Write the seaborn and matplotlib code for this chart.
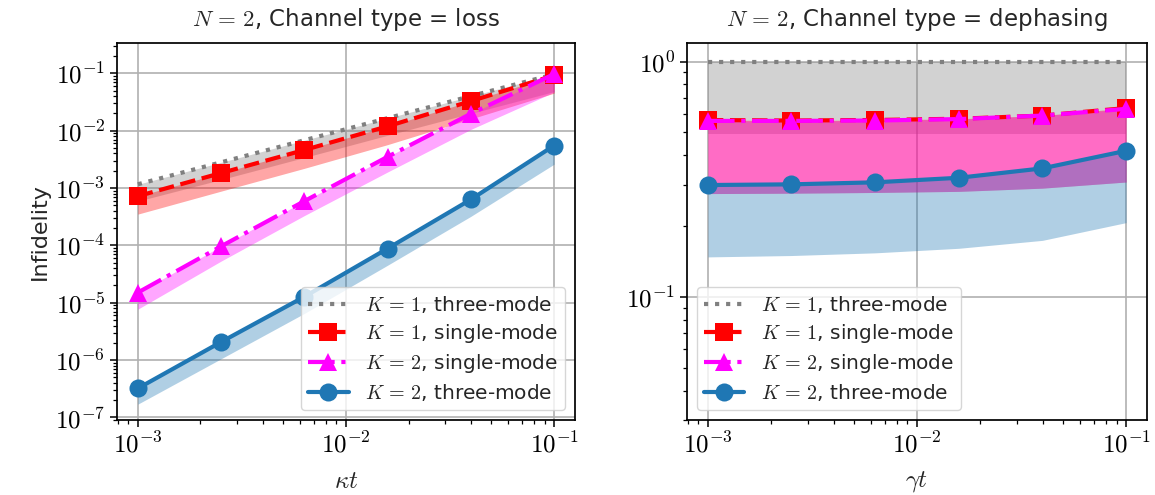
import numpy as np
import pandas as pd
import matplotlib
matplotlib.use("Agg")
import matplotlib.pyplot as plt
import matplotlib.ticker as mticker
import seaborn as sns

# Evolution times (shared by both channels)
times = [1.0e-3, 2.51e-3, 6.31e-3, 1.585e-2, 3.98e-2, 1.0e-1]

# Loss channel: mean infidelity and lower edge of the spread
loss_k1_three = [1.16e-3, 2.8e-3, 6.8e-3, 1.65e-2, 4.0e-2, 9.6e-2]
loss_k1_three_lo = [5.9e-4, 1.4e-3, 3.4e-3, 8.3e-3, 2.0e-2, 4.8e-2]
loss_k1_single = [7.2e-4, 1.82e-3, 4.6e-3, 1.19e-2, 3.27e-2, 9.2e-2]
loss_k1_single_lo = [3.5e-4, 8.8e-4, 2.2e-3, 5.7e-3, 1.6e-2, 4.5e-2]
loss_k2_single = [1.5e-5, 9.6e-5, 5.9e-4, 3.5e-3, 1.97e-2, 9.7e-2]
loss_k2_single_lo = [7.7e-6, 5.3e-5, 3.3e-4, 1.9e-3, 1.05e-2, 4.7e-2]
loss_k2_three = [3.2e-7, 2.06e-6, 1.27e-5, 8.8e-5, 6.3e-4, 5.5e-3]
loss_k2_three_lo = [1.7e-7, 1.05e-6, 6.5e-6, 4.5e-5, 3.2e-4, 2.6e-3]

# Dephasing channel
deph_k1_three = [1.0, 1.0, 1.0, 1.0, 1.0, 1.0]
deph_k1_three_lo = [0.495, 0.495, 0.495, 0.495, 0.495, 0.495]
deph_k1_single = [0.565, 0.562, 0.565, 0.572, 0.59, 0.635]
deph_k1_single_lo = [0.275, 0.276, 0.278, 0.281, 0.29, 0.308]
deph_k2_single = [0.56, 0.56, 0.562, 0.57, 0.59, 0.63]
deph_k2_single_lo = [0.275, 0.276, 0.278, 0.281, 0.29, 0.308]
deph_k2_three = [0.299, 0.301, 0.307, 0.321, 0.352, 0.418]
deph_k2_three_lo = [0.148, 0.150, 0.154, 0.161, 0.174, 0.207]

labels = [r"$K\,=\,1$, three-mode", r"$K\,=\,1$, single-mode",
          r"$K\,=\,2$, single-mode", r"$K\,=\,2$, three-mode"]
colors = ["gray", "red", "magenta", "tab:blue"]
markers = [None, "s", "^", "o"]
styles = [":", "--", "-.", "-"]

sns.set_theme(style="ticks")
plt.rcParams.update({
    "font.family": ["DejaVu Sans"],
    "mathtext.fontset": "cm",
    "axes.grid": True,
    "grid.color": "#b0b0b0",
    "grid.linewidth": 1.2,
    "axes.edgecolor": "black",
    "axes.linewidth": 1.25,
    "xtick.color": "black",
    "ytick.color": "black",
    "xtick.bottom": True,
    "ytick.left": True,
    "font.size": 12,
})

fig = plt.figure(figsize=(11.55, 4.95), dpi=100)
ax1 = fig.add_axes([0.1013, 0.1515, 0.3965, 0.7616])
ax2 = fig.add_axes([0.5948, 0.1515, 0.3983, 0.7616])


def pow10(v, pos):
    return r"$10^{%d}$" % int(round(np.log10(v)))


def draw_panel(ax, series):
    for (mean, lo), lab, col, mk, ls in zip(series, labels, colors, markers, styles):
        ax.fill_between(times, lo, mean, color=col, alpha=0.35, linewidth=0)
        df = pd.DataFrame({"t": times, "val": mean})
        kw = dict(marker=mk, markersize=13) if mk else {}
        sns.lineplot(data=df, x="t", y="val", ax=ax, color=col, linestyle=ls,
                     linewidth=3, label=lab, markeredgewidth=0, **kw)
    ax.set_xscale("log")
    ax.set_yscale("log")
    ax.set_xlim(10 ** -3.1, 10 ** -0.9)
    ax.xaxis.set_major_formatter(mticker.FuncFormatter(pow10))
    ax.yaxis.set_major_formatter(mticker.FuncFormatter(pow10))
    ax.tick_params(axis="both", which="major", labelsize=18, length=5, width=1.1)
    ax.tick_params(axis="both", which="minor", length=3, width=0.9)
    for s in ax.spines.values():
        s.set_color("black")


draw_panel(ax1, [(loss_k1_three, loss_k1_three_lo), (loss_k1_single, loss_k1_single_lo),
                 (loss_k2_single, loss_k2_single_lo), (loss_k2_three, loss_k2_three_lo)])
draw_panel(ax2, [(deph_k1_three, deph_k1_three_lo), (deph_k1_single, deph_k1_single_lo),
                 (deph_k2_single, deph_k2_single_lo), (deph_k2_three, deph_k2_three_lo)])

ax1.set_ylim(9e-8, 0.337)
ax2.set_ylim(0.03, 1.2)
ax1.yaxis.set_major_locator(mticker.LogLocator(base=10, numticks=12))
ax1.yaxis.set_major_formatter(mticker.FuncFormatter(pow10))

ax1.set_title(r"$N\,=\,2$, Channel type = loss", fontsize=16.5, pad=12)
ax2.set_title(r"$N\,=\,2$, Channel type = dephasing", fontsize=16.5, pad=12)
ax1.set_xlabel(r"$\kappa t$", fontsize=18, labelpad=8)
ax2.set_xlabel(r"$\gamma t$", fontsize=18, labelpad=8)
ax1.set_ylabel("Infidelity", fontsize=16, labelpad=4)
ax2.set_ylabel("")

for ax, loc in ((ax1, "lower right"), (ax2, "lower left")):
    ax.legend(loc=loc, fontsize=14.5, handlelength=2.0, borderpad=0.35,
              labelspacing=0.35, handletextpad=0.8)

fig.savefig("out.png", dpi=100)
